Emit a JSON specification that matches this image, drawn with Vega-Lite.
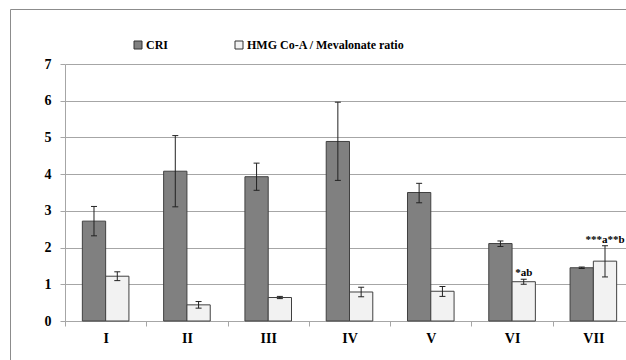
{
  "$schema": "https://vega.github.io/schema/vega-lite/v6.json",
  "autosize": "none",
  "padding": {"left": 10, "top": 9, "right": 0, "bottom": 0},
  "width": 616,
  "height": 351,
  "background": "white",
  "config": {
    "view": {"stroke": "#8c8c8c", "strokeWidth": 1},
    "font": "Liberation Serif"
  },
  "data": {
    "values": [
      {"g": "I", "s": "CRI", "v": 2.72, "lo": 2.32, "hi": 3.12, "lab": ""},
      {"g": "I", "s": "HMG Co-A / Mevalonate ratio", "v": 1.22, "lo": 1.10, "hi": 1.34, "lab": ""},
      {"g": "II", "s": "CRI", "v": 4.08, "lo": 3.11, "hi": 5.05, "lab": ""},
      {"g": "II", "s": "HMG Co-A / Mevalonate ratio", "v": 0.44, "lo": 0.35, "hi": 0.53, "lab": ""},
      {"g": "III", "s": "CRI", "v": 3.93, "lo": 3.56, "hi": 4.30, "lab": ""},
      {"g": "III", "s": "HMG Co-A / Mevalonate ratio", "v": 0.64, "lo": 0.61, "hi": 0.67, "lab": ""},
      {"g": "IV", "s": "CRI", "v": 4.89, "lo": 3.83, "hi": 5.96, "lab": ""},
      {"g": "IV", "s": "HMG Co-A / Mevalonate ratio", "v": 0.79, "lo": 0.66, "hi": 0.92, "lab": ""},
      {"g": "V", "s": "CRI", "v": 3.50, "lo": 3.22, "hi": 3.75, "lab": ""},
      {"g": "V", "s": "HMG Co-A / Mevalonate ratio", "v": 0.81, "lo": 0.67, "hi": 0.94, "lab": ""},
      {"g": "VI", "s": "CRI", "v": 2.11, "lo": 2.03, "hi": 2.18, "lab": ""},
      {"g": "VI", "s": "HMG Co-A / Mevalonate ratio", "v": 1.07, "lo": 1.00, "hi": 1.14, "lab": "*ab"},
      {"g": "VII", "s": "CRI", "v": 1.45, "lo": 1.43, "hi": 1.47, "lab": ""},
      {"g": "VII", "s": "HMG Co-A / Mevalonate ratio", "v": 1.63, "lo": 1.20, "hi": 2.05, "lab": "***a**b"}
    ]
  },
  "encoding": {
    "x": {
      "field": "g",
      "type": "nominal",
      "sort": ["I", "II", "III", "IV", "V", "VI", "VII"],
      "scale": {"range": [55, 624], "paddingInner": 0, "paddingOuter": 0},
      "axis": {
        "title": null,
        "offset": -39,
        "tickBand": "extent",
        "labelAngle": 0,
        "grid": false,
        "domainColor": "#a6a6a6",
        "tickColor": "#a6a6a6",
        "tickSize": 5,
        "labelFont": "Liberation Serif",
        "labelFontWeight": "bold",
        "labelFontSize": 14,
        "labelColor": "#000000",
        "labelPadding": 5
      }
    },
    "xOffset": {
      "field": "s",
      "type": "nominal",
      "sort": ["CRI", "HMG Co-A / Mevalonate ratio"],
      "scale": {"paddingInner": 0, "paddingOuter": 0.745}
    }
  },
  "layer": [
    {
      "mark": {"type": "bar", "stroke": "#404040", "strokeWidth": 1},
      "encoding": {
        "y": {
          "field": "v",
          "type": "quantitative",
          "scale": {"domain": [0, 7], "range": [312, 55], "nice": false, "zero": true},
          "axis": {
            "title": null,
            "offset": -55,
            "values": [0, 1, 2, 3, 4, 5, 6, 7],
            "grid": true,
            "gridColor": "#a6a6a6",
            "gridWidth": 1,
            "domainColor": "#a6a6a6",
            "tickColor": "#a6a6a6",
            "tickSize": 5,
            "labelFont": "Liberation Serif",
            "labelFontWeight": "bold",
            "labelFontSize": 14,
            "labelColor": "#000000",
            "labelPadding": 9
          }
        },
        "color": {
          "field": "s",
          "type": "nominal",
          "sort": ["CRI", "HMG Co-A / Mevalonate ratio"],
          "scale": {"range": ["#808080", "#f2f2f2"]},
          "legend": {
            "title": null,
            "orient": "none",
            "legendX": 122,
            "legendY": 30,
            "direction": "horizontal",
            "padding": 0,
            "symbolType": "square",
            "symbolSize": 64,
            "symbolStrokeColor": "#333333",
            "symbolStrokeWidth": 1,
            "symbolOpacity": 1,
            "labelFont": "Liberation Serif",
            "labelFontWeight": "bold",
            "labelFontSize": 12,
            "labelColor": "#000000",
            "labelOffset": 2,
            "columnPadding": 64
          }
        }
      }
    },
    {
      "mark": {"type": "rule", "color": "#222222", "strokeWidth": 1},
      "encoding": {
        "y": {"field": "lo", "type": "quantitative"},
        "y2": {"field": "hi"}
      }
    },
    {
      "mark": {"type": "tick", "orient": "horizontal", "size": 6, "thickness": 1, "color": "#222222", "opacity": 1},
      "encoding": {"y": {"field": "lo", "type": "quantitative"}}
    },
    {
      "mark": {"type": "tick", "orient": "horizontal", "size": 6, "thickness": 1, "color": "#222222", "opacity": 1},
      "encoding": {"y": {"field": "hi", "type": "quantitative"}}
    },
    {
      "mark": {"type": "text", "baseline": "bottom", "dy": -1, "font": "Liberation Serif", "fontWeight": "bold", "fontSize": 11, "color": "#000000"},
      "encoding": {
        "y": {"field": "hi", "type": "quantitative"},
        "text": {"field": "lab"}
      }
    }
  ]
}
